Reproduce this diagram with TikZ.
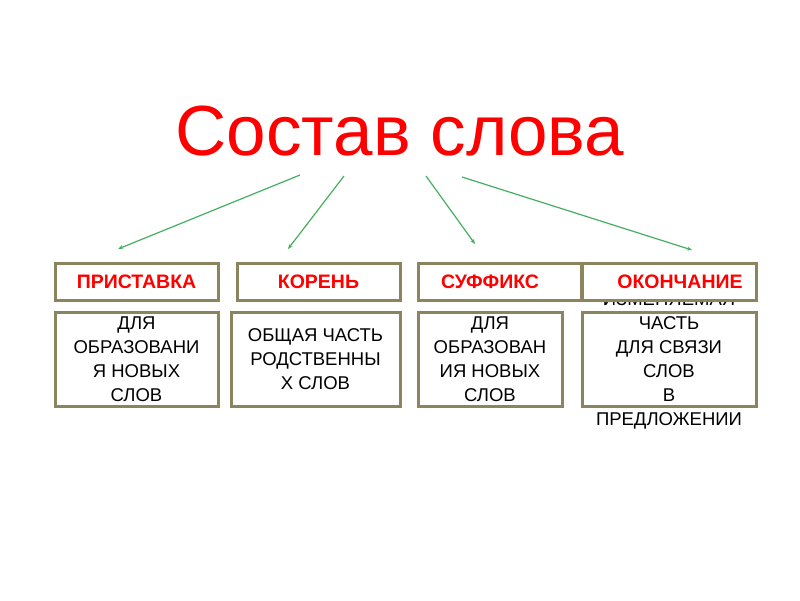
\documentclass[tikz,border=0pt]{standalone}
\usepackage{fontspec}
\setmainfont{Liberation Sans}
\usetikzlibrary{arrows.meta}
\definecolor{boxborder}{RGB}{140,132,92}
\definecolor{arrowgreen}{RGB}{70,175,95}
\definecolor{titlered}{RGB}{255,0,0}
\tikzset{
  headbox/.style={draw=boxborder, line width=3pt, fill=white},
  bodybox/.style={draw=boxborder, line width=3pt},
  headtext/.style={text=titlered, font=\fontsize{19.5}{22}\selectfont\bfseries},
  bodytext/.style={align=center, font=\fontsize{18.5}{24}\selectfont, inner sep=0pt},
  conn/.style={draw=arrowgreen, line width=1.2pt, -{Stealth[length=5pt,width=4pt]}}
}
\begin{document}
\begin{tikzpicture}[x=1pt,y=-1pt]
\useasboundingbox (0,0) rectangle (800,600);
\fill[white] (0,0) rectangle (800,600);
% title
\node[text=titlered, font=\fontsize{71}{80}\selectfont, anchor=base] (title) at (400,155) {Состав слова};
% arrows
\coordinate (s1) at (300,175); \coordinate (e1) at (118,249);
\coordinate (s2) at (344,176); \coordinate (e2) at (288,249);
\coordinate (s3) at (426,176); \coordinate (e3) at (475,244);
\coordinate (s4) at (462,177); \coordinate (e4) at (692,250);
\draw[conn] (s1) -- (e1);
\draw[conn] (s2) -- (e2);
\draw[conn] (s3) -- (e3);
\draw[conn] (s4) -- (e4);
% bottom boxes
\draw[bodybox] (55,312) rectangle (218,406);
\draw[bodybox] (231,312) rectangle (400,406);
\draw[bodybox] (418,312) rectangle (562,406);
\draw[bodybox] (582,312) rectangle (756,406);
\node[bodytext] (b1) at (136.5,359) {ДЛЯ\\ОБРАЗОВАНИ\\Я НОВЫХ\\СЛОВ};
\node[bodytext] (b2) at (315.5,359) {ОБЩАЯ ЧАСТЬ\\РОДСТВЕННЫ\\Х СЛОВ};
\node[bodytext] (b3) at (490,359) {ДЛЯ\\ОБРАЗОВАН\\ИЯ НОВЫХ\\СЛОВ};
\node[bodytext] (b4) at (669,361) {ИЗМЕНЯЕМАЯ\\ЧАСТЬ\\ДЛЯ СВЯЗИ\\СЛОВ\\В\\ПРЕДЛОЖЕНИИ};
% top boxes
\draw[headbox] (55,263) rectangle (218,300);
\draw[headbox] (237,263) rectangle (400,300);
\draw[headbox] (418,263) rectangle (581,300);
\draw[headbox] (582,263) rectangle (756,300);
\node[headtext] (h1) at (136.5,281.5) {ПРИСТАВКА};
\node[headtext] (h2) at (318.5,281.5) {КОРЕНЬ};
\node[headtext] (h3) at (490,281.5) {СУФФИКС};
\node[headtext] (h4) at (680,281.5) {ОКОНЧАНИЕ};
\end{tikzpicture}
\end{document}
